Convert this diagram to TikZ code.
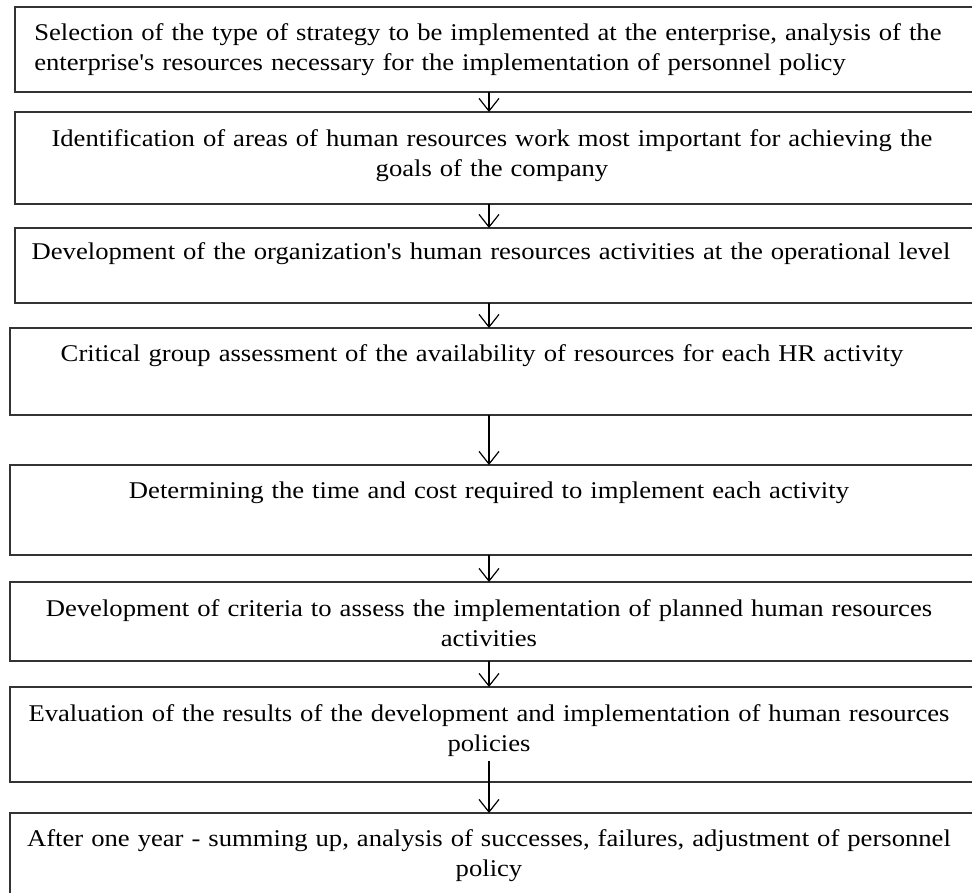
\documentclass[tikz,border=0pt]{standalone}
\usepackage{fontspec}
\setmainfont{Liberation Serif}[Ligatures=TeXOff, FakeStretch=1.11]
\usetikzlibrary{arrows.meta}
\tikzset{
  stepbox/.style={draw=black!80, line width=1.5pt, rectangle, inner sep=0pt, outer sep=0pt},
  txtc/.style={anchor=base, inner sep=0pt, text width=720pt, align=center,
    font=\fontsize{18}{22.5}\selectfont},
  txtl/.style={anchor=base west, inner sep=0pt, text width=720pt, align=left,
    font=\fontsize{18}{22.5}\selectfont},
  arr/.style={draw=black, line width=0.9pt, -{Straight Barb[length=9.5pt, width=15pt, line width=0.9pt]}}
}
\begin{document}
\begin{tikzpicture}[x=0.75pt, y=-0.75pt]
\useasboundingbox (0,0) rectangle (972,893);
\coordinate (ax) at (489,0);
% boxes
\node[stepbox, minimum width=720pt, minimum height=63.75pt] (b1) at (495,49.5) {};
\node[stepbox, minimum width=720pt, minimum height=69pt] (b2) at (495,158) {};
\node[stepbox, minimum width=720pt, minimum height=56.25pt] (b3) at (495,265.5) {};
\node[stepbox, minimum width=723.75pt, minimum height=65.25pt] (b4) at (492.5,371.5) {};
\node[stepbox, minimum width=723.75pt, minimum height=67.5pt] (b5) at (492.5,510) {};
\node[stepbox, minimum width=723.75pt, minimum height=59.25pt] (b6) at (492.5,621.5) {};
\node[stepbox, minimum width=723.75pt, minimum height=71.25pt] (b7) at (492.5,734.5) {};
\node[stepbox, minimum width=723.75pt, minimum height=69pt] (b8) at (492.5,859) {};
% texts
\node[txtl] (t1) at (34,40) {Selection of the type of strategy to be implemented at the enterprise, analysis of the\\enterprise's resources necessary for the implementation of personnel policy};
\node[txtc] (t2) at (492,146) {Identification of areas of human resources work most important for achieving the\\goals of the company};
\node[txtc] (t3) at (491,259) {Development of the organization's human resources activities at the operational level};
\node[txtc] (t4) at (482,361) {Critical group assessment of the availability of resources for each HR activity};
\node[txtc] (t5) at (489,498) {Determining the time and cost required to implement each activity};
\node[txtc] (t6) at (489,616) {Development of criteria to assess the implementation of planned human resources\\activities};
\node[txtc] (t7) at (489,721) {Evaluation of the results of the development and implementation of human resources\\policies};
\node[txtc] (t8) at (489,846) {After one year - summing up, analysis of successes, failures, adjustment of personnel\\policy};
% connectors
\coordinate (s7) at (489,761);
\draw[arr] (b1.south -| ax) -- (b2.north -| ax);
\draw[arr] (b2.south -| ax) -- (b3.north -| ax);
\draw[arr] (b3.south -| ax) -- (b4.north -| ax);
\draw[arr] (b4.south -| ax) -- (b5.north -| ax);
\draw[arr] (b5.south -| ax) -- (b6.north -| ax);
\draw[arr] (b6.south -| ax) -- (b7.north -| ax);
\draw[arr] (s7) -- (b8.north -| ax);
\end{tikzpicture}
\end{document}
